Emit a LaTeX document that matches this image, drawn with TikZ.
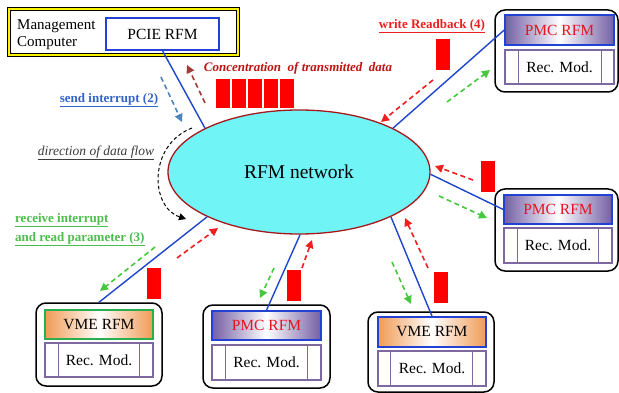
\documentclass[tikz,border=0pt]{standalone}
\usepackage{fontspec}
\setmainfont{Liberation Serif}
\usetikzlibrary{shapes.geometric,arrows.meta}
\definecolor{cyanfill}{RGB}{112,244,246}
\definecolor{ellborder}{RGB}{165,25,30}
\definecolor{linkblue}{RGB}{30,70,205}
\definecolor{pmcpurple}{RGB}{115,95,165}
\definecolor{vmeorange}{RGB}{240,155,85}
\definecolor{recpurple}{RGB}{125,105,160}
\definecolor{titleblue}{RGB}{35,65,210}
\definecolor{titlegreen}{RGB}{40,175,80}
\definecolor{blockred}{RGB}{255,0,0}
\definecolor{arrred}{RGB}{240,30,30}
\definecolor{arrgreen}{RGB}{70,200,60}
\definecolor{arrblue}{RGB}{80,130,190}
\definecolor{arrbrown}{RGB}{160,60,55}
\definecolor{txtred}{RGB}{190,20,20}
\definecolor{txtblue}{RGB}{50,100,200}
\definecolor{txtgreen}{RGB}{75,190,75}
\definecolor{txtgray}{RGB}{60,60,60}
\definecolor{pmctext}{RGB}{230,20,30}
\begin{document}
\begin{tikzpicture}[x=1pt,y=-1pt,
  outerbox/.style={draw=black, line width=1.5pt, rounded corners=10pt, inner sep=0pt},
  pmcbox/.style={draw=titleblue, line width=1.5pt, left color=pmcpurple, right color=pmcpurple, middle color=white, inner sep=0pt, text=pmctext, font=\fontsize{15.5}{17}\selectfont},
  vmebox/.style={line width=1.5pt, left color=vmeorange, right color=vmeorange, middle color=white, inner sep=0pt, font=\fontsize{15.5}{17}\selectfont},
  recbox/.style={draw=recpurple, line width=1.3pt, fill=white, inner sep=0pt, font=\fontsize{15.5}{17}\selectfont},
  recline/.style={draw=recpurple, line width=1.3pt},
  link/.style={draw=linkblue, line width=1.4pt},
  block/.style={fill=blockred, draw=none, minimum width=14pt, minimum height=31pt, inner sep=0pt},
  dasharrow/.style={line width=1.6pt, dash pattern=on 5pt off 3.5pt, -{Triangle[length=8pt,width=8pt]}},
  lbl/.style={inner sep=0pt, font=\fontsize{13}{15}\selectfont\bfseries}
]
\useasboundingbox (0,0) rectangle (619,393);
\fill[white] (0,0) rectangle (619,393);

% Management computer
\node[draw=black, line width=1.2pt, double=yellow, double distance=2.4pt, minimum width=229pt, minimum height=46pt, inner sep=0pt] (mgmt) at (123.5,32) {};
\node[anchor=west, align=left, inner sep=0pt, font=\fontsize{15}{17}\selectfont] (mgmttxt) at (17,35) {Management\\Computer};
\node[draw=titleblue, line width=1.5pt, minimum width=113pt, minimum height=32pt, inner sep=0pt, font=\fontsize{15.5}{17}\selectfont] (pcie) at (162.5,34) {PCIE RFM};

% network
\node[ellipse, draw=ellborder, fill=cyanfill, line width=1.3pt, minimum width=262pt, minimum height=124pt, inner sep=0pt, font=\fontsize{19.5}{22}\selectfont] (net) at (299,172) {RFM network};

% unit A: top-right PMC
\node[outerbox, minimum width=123pt, minimum height=82pt] (outA) at (556.5,51) {};
\node[pmcbox, minimum width=109pt, minimum height=30pt] (titA) at (559.5,30) {PMC RFM};
\node[recbox, minimum width=109pt, minimum height=34pt] (recA) at (559.5,67) {Rec. Mod.};
\draw[recline] ([xshift=14pt]recA.north west) -- ([xshift=14pt]recA.south west);
\draw[recline] ([xshift=-13pt]recA.north east) -- ([xshift=-13pt]recA.south east);

% unit B: right PMC
\node[outerbox, minimum width=123pt, minimum height=82pt] (outB) at (556.5,230) {};
\node[pmcbox, minimum width=108pt, minimum height=29pt] (titB) at (558,209.5) {PMC RFM};
\node[recbox, minimum width=108pt, minimum height=35pt] (recB) at (558,245.5) {Rec. Mod.};
\draw[recline] ([xshift=14pt]recB.north west) -- ([xshift=14pt]recB.south west);
\draw[recline] ([xshift=-14pt]recB.north east) -- ([xshift=-14pt]recB.south east);

% unit C: bottom-right VME
\node[outerbox, minimum width=126pt, minimum height=80pt] (outC) at (431,352) {};
\node[vmebox, draw=titleblue, minimum width=108pt, minimum height=30pt] (titC) at (432,332) {VME RFM};
\node[recbox, minimum width=108pt, minimum height=35pt] (recC) at (432,368.5) {Rec. Mod.};
\draw[recline] ([xshift=13pt]recC.north west) -- ([xshift=13pt]recC.south west);
\draw[recline] ([xshift=-14pt]recC.north east) -- ([xshift=-14pt]recC.south east);

% unit D: bottom-middle PMC
\node[outerbox, minimum width=127pt, minimum height=83pt] (outD) at (266.5,346.5) {};
\node[pmcbox, minimum width=109pt, minimum height=29pt] (titD) at (266.5,325.5) {PMC RFM};
\node[recbox, minimum width=109pt, minimum height=35pt] (recD) at (266.5,362.5) {Rec. Mod.};
\draw[recline] ([xshift=14pt]recD.north west) -- ([xshift=14pt]recD.south west);
\draw[recline] ([xshift=-14pt]recD.north east) -- ([xshift=-14pt]recD.south east);

% unit E: bottom-left VME
\node[outerbox, minimum width=126pt, minimum height=83pt] (outE) at (99,344.5) {};
\node[vmebox, draw=titlegreen, minimum width=108pt, minimum height=29pt] (titE) at (99,324.5) {VME RFM};
\node[recbox, minimum width=108pt, minimum height=34pt] (recE) at (99,360) {Rec. Mod.};
\draw[recline] ([xshift=14pt]recE.north west) -- ([xshift=14pt]recE.south west);
\draw[recline] ([xshift=-14pt]recE.north east) -- ([xshift=-14pt]recE.south east);

% links
\draw[link] (pcie.south) -- (net.155);
\draw[link] (titA.west) -- (net.25);
\draw[link] (titB.west) -- (net.-1);
\draw[link] (titC.north) -- (net.-26);
\draw[link] (titD.north) -- (net.-89);
\draw[link] (outE.north) -- (net.206);

% red blocks
\foreach \i in {0,...,4} {
  \node[block, minimum height=29pt] (conc\i) at (223+16*\i,93.5) {};
}
\node[block] (bA) at (443,55) {};
\node[block] (bB) at (488,176.5) {};
\node[block] (bC) at (441,287.5) {};
\node[block] (bD) at (294,285) {};
\node[block] (bE) at (153.5,283.5) {};

% dashed arrows
\coordinate (a1s) at (161,77);  \coordinate (a1e) at (182,122);
\coordinate (a2s) at (205,103); \coordinate (a2e) at (187,65);
\draw[dasharrow, arrblue] (a1s) -- (a1e);
\draw[dasharrow, arrbrown] (a2s) -- (a2e);

\coordinate (rAs) at (433,80);  \coordinate (rAe) at (381,122);
\coordinate (gAs) at (447,102); \coordinate (gAe) at (490,70);
\coordinate (rBs) at (473,180); \coordinate (rBe) at (435,166);
\coordinate (gBs) at (439,196); \coordinate (gBe) at (487,218);
\coordinate (rCs) at (428,268); \coordinate (rCe) at (405,218);
\coordinate (gCs) at (392,262); \coordinate (gCe) at (411,304);
\coordinate (rDs) at (302,268); \coordinate (rDe) at (312,240);
\coordinate (gDs) at (274,268); \coordinate (gDe) at (260,298);
\coordinate (rEs) at (177,258); \coordinate (rEe) at (218,228);
\coordinate (gEs) at (155,247); \coordinate (gEe) at (100,291);
\draw[dasharrow, arrred] (rAs) -- (rAe);
\draw[dasharrow, arrgreen] (gAs) -- (gAe);
\draw[dasharrow, arrred] (rBs) -- (rBe);
\draw[dasharrow, arrgreen] (gBs) -- (gBe);
\draw[dasharrow, arrred] (rCs) -- (rCe);
\draw[dasharrow, arrgreen] (gCs) -- (gCe);
\draw[dasharrow, arrred] (rDs) -- (rDe);
\draw[dasharrow, arrgreen] (gDs) -- (gDe);
\draw[dasharrow, arrred] (rEs) -- (rEe);
\draw[dasharrow, arrgreen] (gEs) -- (gEe);

% direction of data flow
\coordinate (flows) at (192,128); \coordinate (flowe) at (186,219);
\draw[line width=1pt, dash pattern=on 3.5pt off 2.5pt, -{Triangle[length=7pt,width=7pt]}] (flows) .. controls (148,145) and (150,207) .. (flowe);

% labels
\node[lbl, text=txtred, font=\fontsize{13}{15}\selectfont\bfseries\itshape] (conctxt) at (298,68) {Concentration\ \ of transmitted\ \ data};
\node[lbl, text=txtblue] (sendtxt) at (109,100) {\underline{send interrupt (2)}};
\node[lbl, text=arrred] (writetxt) at (432,26) {\underline{write Readback (4)}};
\node[inner sep=0pt, text=txtgray, font=\fontsize{13.5}{15}\selectfont\itshape] (dirtxt) at (96,153) {\underline{direction of data flow}};
\node[lbl, text=txtgreen, anchor=west] (rec1) at (15,220) {\underline{receive interrupt}};
\node[lbl, text=txtgreen, anchor=west] (rec2) at (15,239) {\underline{and read parameter (3)}};
\end{tikzpicture}
\end{document}
